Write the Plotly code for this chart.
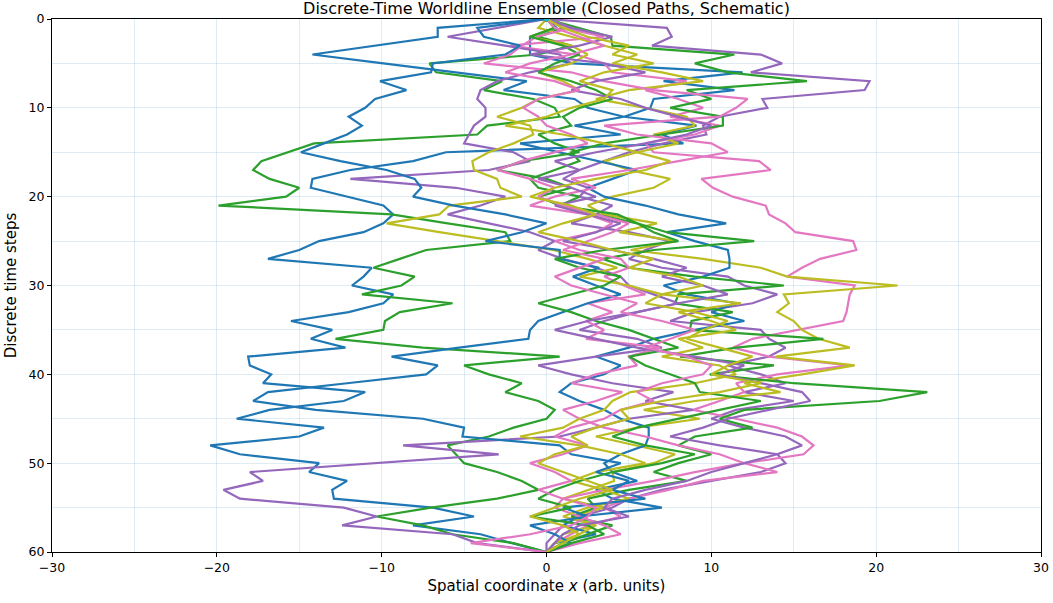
import plotly.graph_objects as go

t = list(range(61))

# ---- blue worldlines ----
blue_a = [0, -6.6, -6.6, -10.4, -14.2, -9.9, -5.5, -1.2, -2.6, 1.7,
          2.5, 4.7, 1.7, 4.5, -1.6, 0.8, 3.0, 5.5, 4.0, 2.5,
          3.5, 6.0, 8.0, 10.9, 7.3, 9.0, 11.0, 11.1, 11.1, 9.5,
          7.1, 8.5, 11.5, 10.0, 12.0, 9.0, 6.5, 5.0, 3.0, 4.5,
          3.5, 1.5, 0.8, 2.0, 3.5, 4.5, 6.2, 6.2, 6.0, 4.5,
          3.5, 4.0, 5.5, 3.0, 4.0, 7.0, 2.0, 1.0, 3.0, 0.5, 0]
blue_b = [0, 0.6, -1.0, -1.0, -1.0, 1.6, 11.9, 7.1, 11.4, 6.5,
          6.3, 4.7, 9.1, 7.0, 8.3, -6.1, -8.1, -11.9, -14.2, -14.3,
          -12.1, -9.9, -9.3, -9.9, -11.1, -13.8, -15.0, -16.9, -10.6, -11.1,
          -11.8, -9.3, -9.9, -12.0, -15.5, -13.0, -14.3, -12.2, -18.1, -18.0,
          -16.7, -17.2, -11.0, -12.3, -16.8, -18.8, -13.5, -15.0, -20.4, -18.6,
          -13.8, -14.4, -12.1, -13.0, -12.9, -6.9, -4.4, -8.1, -4.0, -2.1, 0]
blue_c = [0, -4.2, -3.8, -1.6, -2.5, -6.9, -7.0, -10.1, -8.5, -10.4,
          -11.0, -12.0, -11.2, -12.1, -13.5, -14.9, -12.5, -9.7, -8.0, -7.6,
          -8.1, -5.6, -2.5, 0.0, -1.5, -3.7, 0.8, 0.8, 3.2, 1.6,
          3.0, 4.5, 2.5, 1.0, -0.5, -1.0, -1.1, -5.3, -9.4, -6.6,
          -7.3, -12.1, -16.9, -17.8, -14.0, -7.5, -5.0, -5.1, 0.8, 1.5,
          4.5, 3.0, 5.0, 4.0, 6.0, 1.0, 2.5, -1.0, 0.5, 1.5, 0]

# ---- green worldlines ----
green_a = [0, 1.0, -0.5, 1.5, -0.5, -7.1, -6.7, -2.7, -3.8, -0.8,
           0.5, 0.8, -3.6, -4.2, -14.1, -15.7, -17.3, -17.8, -16.8, -15.0,
           -15.8, -19.9, -9.4, -6.0, -2.5, -2.2, -7.3, -8.9, -10.5, -8.0,
           -8.8, -11.2, -5.7, -8.9, -9.8, -9.9, -12.8, -7.5, 0.8, -5.0,
           -3.5, -1.5, -2.5, -0.5, 0.5, 0.0, -2.0, -3.5, -6.0, -5.5,
           -5.0, -3.0, -1.5, -0.5, -3.0, -7.0, -10.3, -7.5, -5.7, -2.0, 0]
green_b = [0, 2.0, 3.9, 4.0, 11.4, 9.0, 11.0, 15.8, 8.5, 10.0,
           7.5, 10.7, 10.7, 7.0, 3.5, 1.5, 2.0, 0.5, -1.0, -0.5,
           2.0, 0.8, 4.3, 5.5, 7.3, 12.6, 6.5, 3.4, 5.0, 9.0,
           14.4, 8.0, 7.8, 11.3, 8.8, 8.7, 16.8, 11.5, 8.1, 13.8,
           9.9, 15.0, 23.1, 20.2, 12.0, 10.5, 12.5, 9.0, 8.0, 10.0,
           8.0, 6.5, 8.5, 5.0, 2.5, 3.0, 1.5, 4.0, 2.5, 1.0, 0]
green_c = [0, 0.5, -1.0, 1.0, 2.0, 0.5, -0.5, 1.5, 3.0, 4.0,
           2.0, 1.0, 1.5, -0.5, 0.5, 2.0, -1.5, -3.0, 0.0, 1.5,
           -0.5, 0.8, 3.0, 5.5, 6.5, 8.0, 3.5, 0.5, 2.0, 4.5,
           3.5, 1.5, -0.5, 1.5, 3.0, 5.0, 6.5, 8.0, 5.0, 6.0,
           7.5, 9.0, 9.3, 13.0, 10.5, 8.0, 5.5, 4.0, 6.0, 9.0,
           7.0, 4.0, 2.0, 0.5, -0.5, 1.5, -1.0, 2.5, 3.5, 1.5, 0]

# ---- purple worldlines ----
purple_a = [0, 7.3, 7.6, 6.4, 13.0, 14.3, 12.4, 19.6, 19.3, 13.1,
            13.4, 10.5, 9.5, 9.7, 7.1, 5.0, 3.5, 2.0, 1.0, 2.5,
            2.0, 4.0, 3.0, 1.5, 5.0, 7.5, 6.0, 5.0, 7.0, 11.0,
            12.0, 14.0, 12.5, 9.0, 7.5, 13.0, 13.5, 14.5, 13.5, 11.0,
            13.0, 14.5, 12.0, 15.0, 11.5, 10.0, 12.0, 14.5, 15.5, 14.0,
            14.5, 13.0, 10.0, 7.0, 5.0, 4.0, 2.0, 1.0, 0.5, 0.0, 0]
purple_b = [0, -3.0, -6.0, -2.5, 0.8, 1.5, -1.0, -3.0, -4.0, -4.2,
            -3.7, -3.7, -4.4, -4.7, -5.0, -2.0, -1.0, -3.5, -11.9, -5.5,
            -2.5, -4.0, -6.0, -3.5, -1.0, 0.5, -0.5, 1.0, 3.0, 4.5,
            5.0, 6.5, 8.0, 5.5, 3.5, 2.0, 5.5, 7.0, 3.0, -0.5,
            1.5, 4.0, 7.7, 6.0, 8.9, 5.0, 3.0, 0.8, -8.7, -2.9,
            -10.4, -18.0, -17.2, -19.6, -18.6, -12.3, -10.3, -12.4, -5.7, -4.2, 0]
purple_c = [0, 1.5, 4.0, 2.0, -1.0, 3.5, 6.0, 3.0, 1.5, 4.5,
            6.0, 8.0, 10.0, 8.5, 6.0, 3.0, 0.5, 2.0, -0.5, 1.5,
            3.0, 0.5, 2.5, 4.5, 3.0, 1.0, 4.0, 6.5, 8.5, 7.0,
            9.5, 11.0, 8.0, 5.5, 2.5, 0.5, 3.0, 5.5, 9.0, 12.0,
            10.5, 13.0, 15.5, 16.0, 13.5, 11.0, 9.5, 7.5, 10.5, 14.0,
            12.0, 10.0, 8.5, 6.0, 4.0, 3.5, 5.0, 2.0, 1.0, 0.5, 0]

# ---- pink worldlines ----
pink_a = [0, 1.0, 3.5, -2.2, 1.8, 3.5, 4.0, 8.5, 6.0, 8.0,
          9.5, 7.5, 10.5, 9.0, 6.0, 6.5, 12.9, 13.6, 9.4, 10.1,
          11.3, 13.3, 13.5, 14.5, 15.1, 18.6, 18.8, 16.6, 15.5, 14.6,
          18.7, 18.4, 18.3, 18.2, 18.0, 15.2, 12.5, 11.3, 13.5, 18.4,
          14.0, 11.5, 12.0, 10.5, 8.9, 11.5, 14.0, 15.5, 16.2, 15.6,
          12.0, 14.0, 9.5, 7.4, 5.0, 3.5, 4.5, 2.5, 1.5, 0.5, 0]
pink_b = [0, 1.5, -0.6, -1.5, -2.2, -3.8, 1.5, 3.5, 6.5, 12.2,
          11.5, 10.5, 3.5, 5.5, 10.0, 11.0, 8.0, 5.0, 1.5, 3.0,
          0.5, -1.0, 2.5, 4.0, 3.0, 0.5, 2.0, 4.5, 5.0, 3.5,
          4.7, 6.0, 2.5, 4.0, 2.4, 3.5, 2.4, 6.9, 5.0, 5.5,
          3.0, 1.5, 4.6, 3.0, 1.0, 2.0, 3.5, 6.0, 8.0, 10.5,
          12.0, 9.0, 6.5, 3.5, 1.0, 0.5, 2.0, 3.5, 4.5, 2.0, 0]
pink_c = [0, 0.5, 2.0, 3.5, 1.5, -1.0, -2.5, 0.5, 2.0, -0.5,
          -1.4, -0.5, 0.0, 1.5, 2.5, 0.5, -1.5, -3.0, -1.0, 0.5,
          -0.5, 1.0, 3.0, 5.0, 4.0, 2.5, 1.0, 3.5, 2.0, 0.5,
          1.5, 3.5, 5.5, 4.5, 7.0, 9.0, 7.5, 6.0, 8.5, 10.0,
          9.5, 7.0, 5.5, 6.5, 4.5, 3.5, 1.5, 0.5, 2.5, 1.0,
          -1.0, 0.5, 1.5, -0.5, 1.0, 3.0, 2.5, 1.5, -1.0, -4.6, 0]

# ---- olive worldlines ----
olive_a = [0, -0.5, 1.5, 3.5, 5.5, 4.0, 7.0, 9.5, 5.0, 3.0,
           6.0, 8.5, 9.0, 6.5, 8.0, 5.5, 3.5, 5.0, 7.5, 6.5,
           4.0, 2.5, 3.5, 6.7, 4.4, 7.9, 5.1, 9.5, 13.0, 14.6,
           21.3, 14.4, 14.7, 14.0, 15.0, 15.5, 16.5, 18.4, 13.9, 18.7,
           15.5, 12.0, 14.2, 9.0, 5.9, 9.3, 5.5, 3.0, 5.5, 7.8,
           6.5, 4.0, 4.1, 2.5, 1.0, 3.5, 1.5, 3.0, 1.0, 0.5, 0]
olive_b = [0, 0.5, -1.0, 1.5, 2.5, 1.5, -0.5, 1.0, 2.0, -0.5,
           -1.5, -3.0, -1.0, -0.8, -2.0, -3.5, -4.5, -4.4, -3.0, -2.8,
           -1.5, -5.9, -6.5, -9.7, -6.5, -3.0, 0.4, 2.5, 4.3, 2.0,
           5.0, 7.0, 11.8, 8.0, 10.0, 11.5, 8.0, 9.5, 7.0, 10.5,
           11.5, 9.0, 5.1, 4.0, 3.5, 2.0, 1.0, -1.6, 2.0, 4.5,
           6.0, 3.0, 1.5, 3.5, 5.0, 2.5, 1.0, 3.0, 2.0, 0.5, 0]
olive_c = [0, 1.0, 2.5, 5.0, 4.0, 6.5, 3.5, 2.0, 4.0, 3.5,
           1.5, 0.0, -2.5, 1.0, 3.5, 5.5, 7.5, 6.0, 3.0, 0.5,
           -1.0, 1.5, 3.0, 1.0, -0.5, 2.0, 4.0, 6.5, 5.0, 8.0,
           9.5, 7.0, 6.0, 9.0, 11.0, 9.5, 8.5, 10.5, 12.5, 11.0,
           10.0, 13.0, 10.5, 7.0, 4.5, 5.0, 3.0, 1.5, 2.5, 0.5,
           -0.5, 1.0, 2.5, 4.0, 2.0, 0.5, -1.0, 1.0, 2.0, 1.0, 0]

line_colors = ["#1f77b4", "#2ca02c", "#9467bd", "#e377c2", "#bcbd22"]
marker_colors = ["#ff7f0e", "#d62728", "#8c564b", "#7f7f7f", "#17becf"]

paths = [blue_b, green_a, purple_a, pink_a, olive_a,
         blue_a, green_b, purple_b, pink_b, olive_b,
         blue_c, green_c, purple_c, pink_c, olive_c]

fig = go.Figure()
for i, xs in enumerate(paths):
    fig.add_trace(go.Scatter(x=xs, y=t, mode="lines",
                             line=dict(color=line_colors[i % 5], width=2.2),
                             showlegend=False, hoverinfo="skip"))
    fig.add_trace(go.Scatter(x=[xs[0]], y=[t[0]], mode="markers",
                             marker=dict(color=marker_colors[i % 5], size=5),
                             showlegend=False, hoverinfo="skip"))

grid_c = "rgba(31,119,180,0.14)"
fig.update_layout(
    width=1053, height=603,
    margin=dict(l=52, r=12, t=19, b=51, autoexpand=False),
    paper_bgcolor="white", plot_bgcolor="white",
    font=dict(family="DejaVu Sans", size=12.5, color="black"),
    title=dict(text="Discrete-Time Worldline Ensemble (Closed Paths, Schematic)",
               x=0.5, xanchor="center", xref="paper",
               y=1 - 8 / 603, yanchor="middle", yref="container",
               font=dict(size=16)),
    xaxis=dict(range=[-30, 30], dtick=10, tick0=-30, showgrid=True, gridcolor=grid_c,
               zeroline=False, showline=True, linecolor="black", linewidth=1, mirror=True,
               ticks="outside", ticklen=4, tickcolor="black", automargin=False,
               minor=dict(dtick=5, showgrid=True, gridcolor=grid_c),
               title=dict(text="Spatial coordinate <i>x</i> (arb. units)",
                          font=dict(size=15), standoff=6)),
    yaxis=dict(range=[60, 0], dtick=10, showgrid=True, gridcolor=grid_c,
               zeroline=False, showline=True, linecolor="black", linewidth=1, mirror=True,
               ticks="outside", ticklen=4, tickcolor="black", automargin=False,
               minor=dict(dtick=5, showgrid=True, gridcolor=grid_c),
               title=dict(text="Discrete time steps", font=dict(size=15), standoff=8)),
)
fig.write_html("out.html",
               config={"displayModeBar": False},
               post_script="document.body.style.margin='0';document.body.style.overflow='hidden';")
